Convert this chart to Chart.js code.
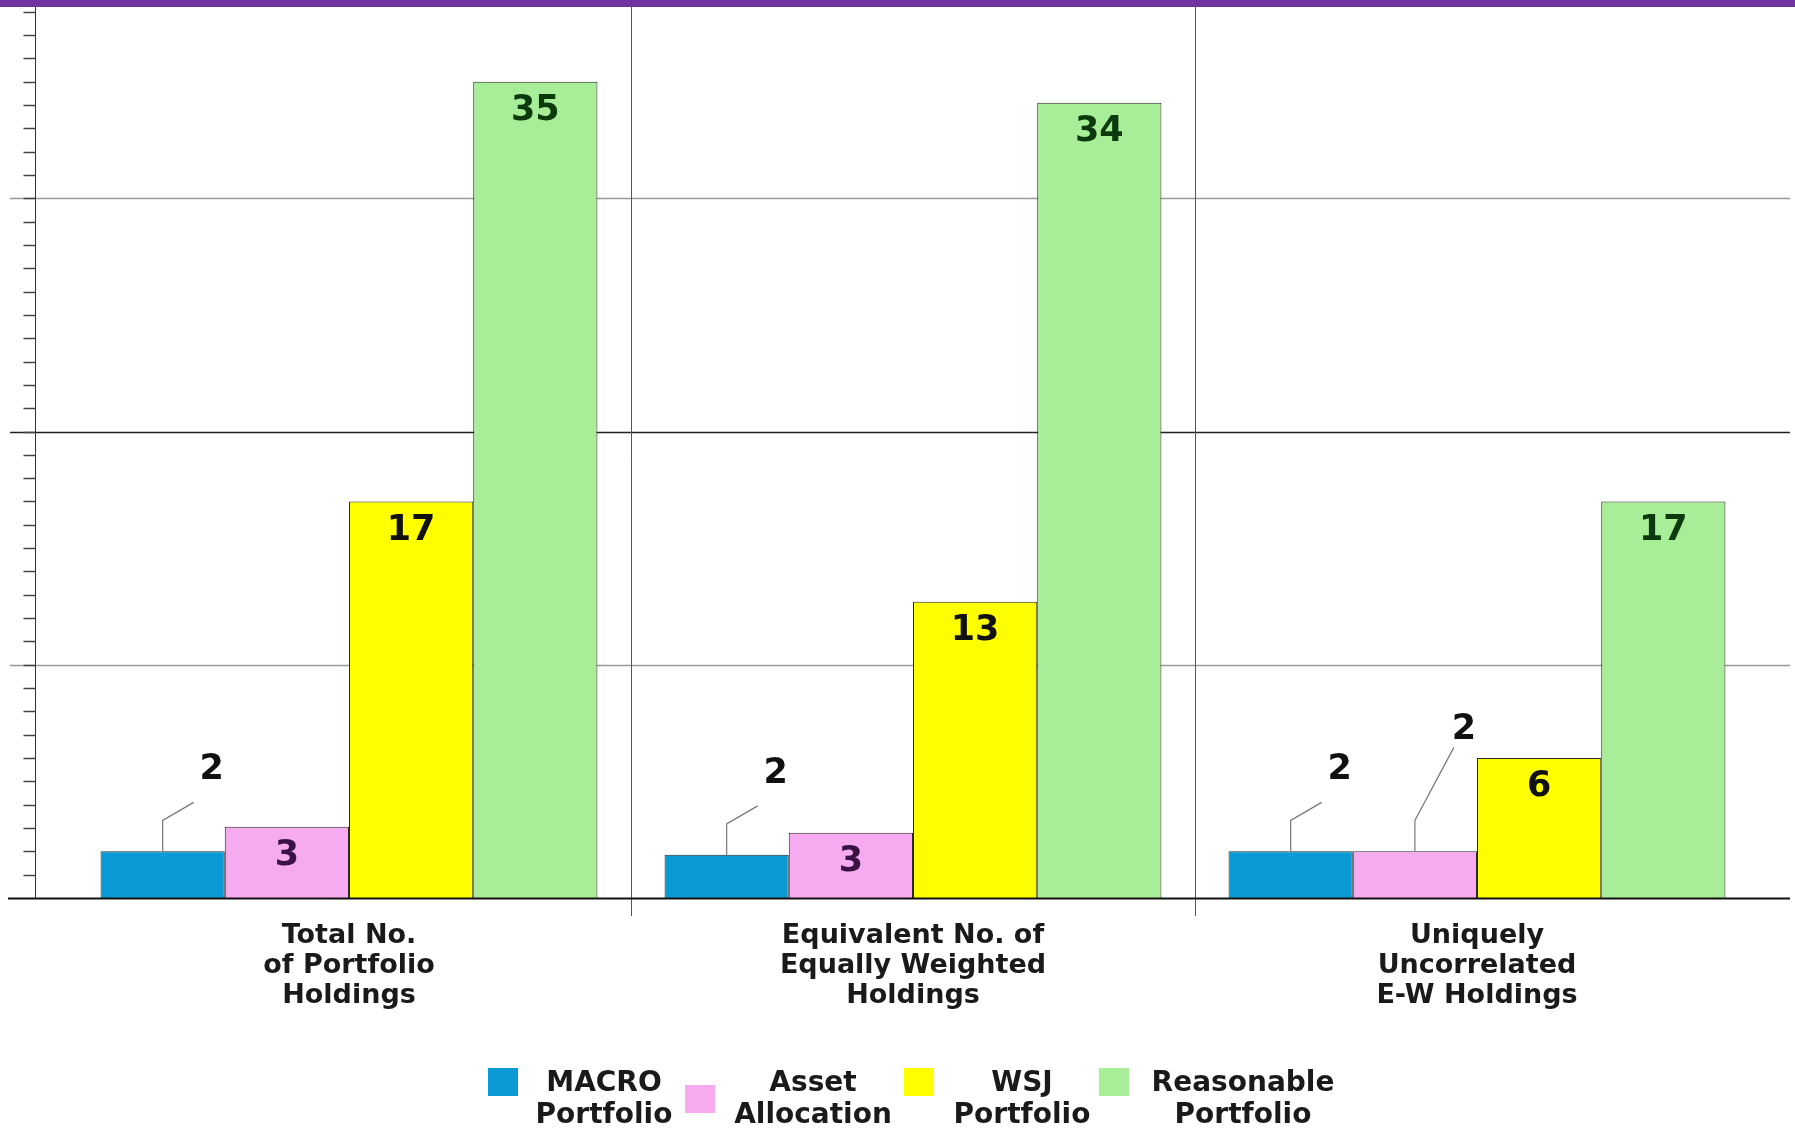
<!DOCTYPE html>
<html>
<head>
<meta charset="utf-8">
<script src="https://cdn.jsdelivr.net/npm/chart.js@4.4.1/dist/chart.umd.min.js"></script>
<style>
  html, body { margin: 0; padding: 0; background: #fff; }
  #wrap { width: 1795px; height: 1128px; position: relative; }
</style>
</head>
<body>
<div id="wrap"><canvas id="chart"></canvas></div>
<script>
// categories and series
const categories = [
  ['Total No.', 'of Portfolio', 'Holdings'],
  ['Equivalent No. of', 'Equally Weighted', 'Holdings'],
  ['Uniquely', 'Uncorrelated', 'E-W Holdings']
];
const seriesNames = [
  ['MACRO', 'Portfolio'],
  ['Asset', 'Allocation'],
  ['WSJ', 'Portfolio'],
  ['Reasonable', 'Portfolio']
];
const macroValues = [2.0, 1.85, 2.0];
const assetValues = [3.05, 2.8, 2.0];
const wsjValues = [17, 12.7, 6];
const reasonableValues = [35, 34.1, 17];
const gridValues = [10, 20, 30];

const seriesColors = ['#0a9ad6', '#f6abf0', '#ffff00', '#a8ee98'];
const labelColors = ['#111111', '#3b1245', '#111111', '#0c3a0c'];
const FONT = "'DejaVu Sans', Verdana, sans-serif";

// axes, grid, separators, top band
const framePlugin = {
  id: 'framePlugin',
  beforeDatasetsDraw(chart) {
    const {ctx, scales: {x, y}} = chart;
    ctx.save();
    // top purple band
    ctx.fillStyle = '#7232a0';
    ctx.fillRect(0, 0, chart.width, 7);

    // horizontal grid lines
    gridValues.forEach(v => {
      const py = Math.round(y.getPixelForValue(v)) + 0.5;
      ctx.strokeStyle = v === 20 ? '#222' : '#9a9a9a';
      ctx.lineWidth = 1.5;
      ctx.beginPath();
      ctx.moveTo(10, py);
      ctx.lineTo(chart.width - 5, py);
      ctx.stroke();
    });

    // category separators
    ctx.strokeStyle = '#555';
    ctx.lineWidth = 1;
    for (let i = 0; i < categories.length - 1; i++) {
      const px = Math.round((x.getPixelForValue(i) + x.getPixelForValue(i + 1)) / 2) + 0.5;
      ctx.beginPath();
      ctx.moveTo(px, 7);
      ctx.lineTo(px, y.getPixelForValue(0) + 18);
      ctx.stroke();
    }

    // y axis line with minor ticks
    const axisX = 35.5;
    ctx.strokeStyle = '#333';
    ctx.lineWidth = 1;
    ctx.beginPath();
    ctx.moveTo(axisX, 7);
    ctx.lineTo(axisX, y.getPixelForValue(0));
    ctx.stroke();
    ctx.lineWidth = 1.5;
    ctx.strokeStyle = '#444';
    for (let v = 1; v <= Math.floor(y.max); v++) {
      const py = Math.round(y.getPixelForValue(v)) + 0.5;
      ctx.beginPath();
      ctx.moveTo(axisX - 12, py);
      ctx.lineTo(axisX, py);
      ctx.stroke();
    }
    ctx.restore();
  },
  afterDatasetsDraw(chart) {
    const {ctx, scales: {y}} = chart;
    ctx.save();
    // baseline
    const by = Math.round(y.getPixelForValue(0)) + 0.5;
    ctx.strokeStyle = '#111';
    ctx.lineWidth = 2;
    ctx.beginPath();
    ctx.moveTo(8, by);
    ctx.lineTo(chart.width - 5, by);
    ctx.stroke();
    ctx.restore();
  }
};

// value labels, inside the bar or above with a leader line
const valuePlugin = {
  id: 'valuePlugin',
  afterDatasetsDraw(chart) {
    const {ctx} = chart;
    ctx.save();
    ctx.font = 'bold 35px ' + FONT;
    ctx.textAlign = 'center';
    ctx.textBaseline = 'middle';
    const outsideInCat = {};
    chart.data.datasets.forEach((ds, i) => {
      const meta = chart.getDatasetMeta(i);
      meta.data.forEach((bar, j) => {
        const label = String(Math.round(ds.data[j]));
        const h = bar.base - bar.y;
        if (h >= 55) {
          ctx.fillStyle = labelColors[i];
          ctx.fillText(label, bar.x, bar.y + 29);
          return;
        }
        const stacked = outsideInCat[j] ? 1 : 0;
        outsideInCat[j] = true;
        const elbowY = bar.y - 31;
        const endX = bar.x + (stacked ? 39 : 31);
        const endY = elbowY - (stacked ? 73 : 18);
        ctx.strokeStyle = '#777';
        ctx.lineWidth = 1.2;
        ctx.beginPath();
        ctx.moveTo(bar.x, bar.y);
        ctx.lineTo(bar.x, elbowY);
        ctx.lineTo(endX, endY);
        ctx.stroke();
        ctx.fillStyle = '#111';
        ctx.fillText(label, bar.x + 49, bar.y - (stacked ? 121 : 81));
      });
    });
    ctx.restore();
  }
};

// two-line legend at the bottom
const legendPlugin = {
  id: 'legendPlugin',
  afterDraw(chart) {
    const {ctx} = chart;
    const boxX = [488, 685, 904, 1099];
    const boxY = [1068, 1085, 1068, 1068];
    const textX = [604, 813, 1022, 1243];
    ctx.save();
    ctx.font = 'bold 28px ' + FONT;
    ctx.textAlign = 'center';
    ctx.textBaseline = 'middle';
    seriesNames.forEach((name, i) => {
      ctx.fillStyle = seriesColors[i];
      ctx.fillRect(boxX[i], boxY[i], 30, 28);
      ctx.fillStyle = '#1a1a1a';
      ctx.fillText(name[0], textX[i], 1084);
      ctx.fillText(name[1], textX[i], 1116);
    });
    ctx.restore();
  }
};

const allValues = [macroValues, assetValues, wsjValues, reasonableValues];

new Chart(document.getElementById('chart'), {
  type: 'bar',
  data: {
    labels: categories,
    datasets: allValues.map((vals, i) => ({
      label: seriesNames[i].join(' '),
      data: vals,
      backgroundColor: seriesColors[i],
      borderColor: '#2a2a2a',
      borderWidth: 1,
      barPercentage: 1,
      categoryPercentage: 0.881
    }))
  },
  options: {
    responsive: true,
    maintainAspectRatio: false,
    animation: false,
    layout: { padding: { left: 67, right: 36, top: 7, bottom: 102 } },
    plugins: {
      legend: { display: false },
      tooltip: { enabled: false }
    },
    scales: {
      x: {
        grid: { display: false },
        border: { display: false },
        ticks: {
          color: '#1a1a1a',
          padding: 15,
          maxRotation: 0,
          autoSkip: false,
          font: { family: FONT, size: 27, weight: 'bold', lineHeight: 1.111 }
        }
      },
      y: {
        display: false,
        min: 0,
        max: 38.2
      }
    }
  },
  plugins: [framePlugin, valuePlugin, legendPlugin]
});
</script>
</body>
</html>
